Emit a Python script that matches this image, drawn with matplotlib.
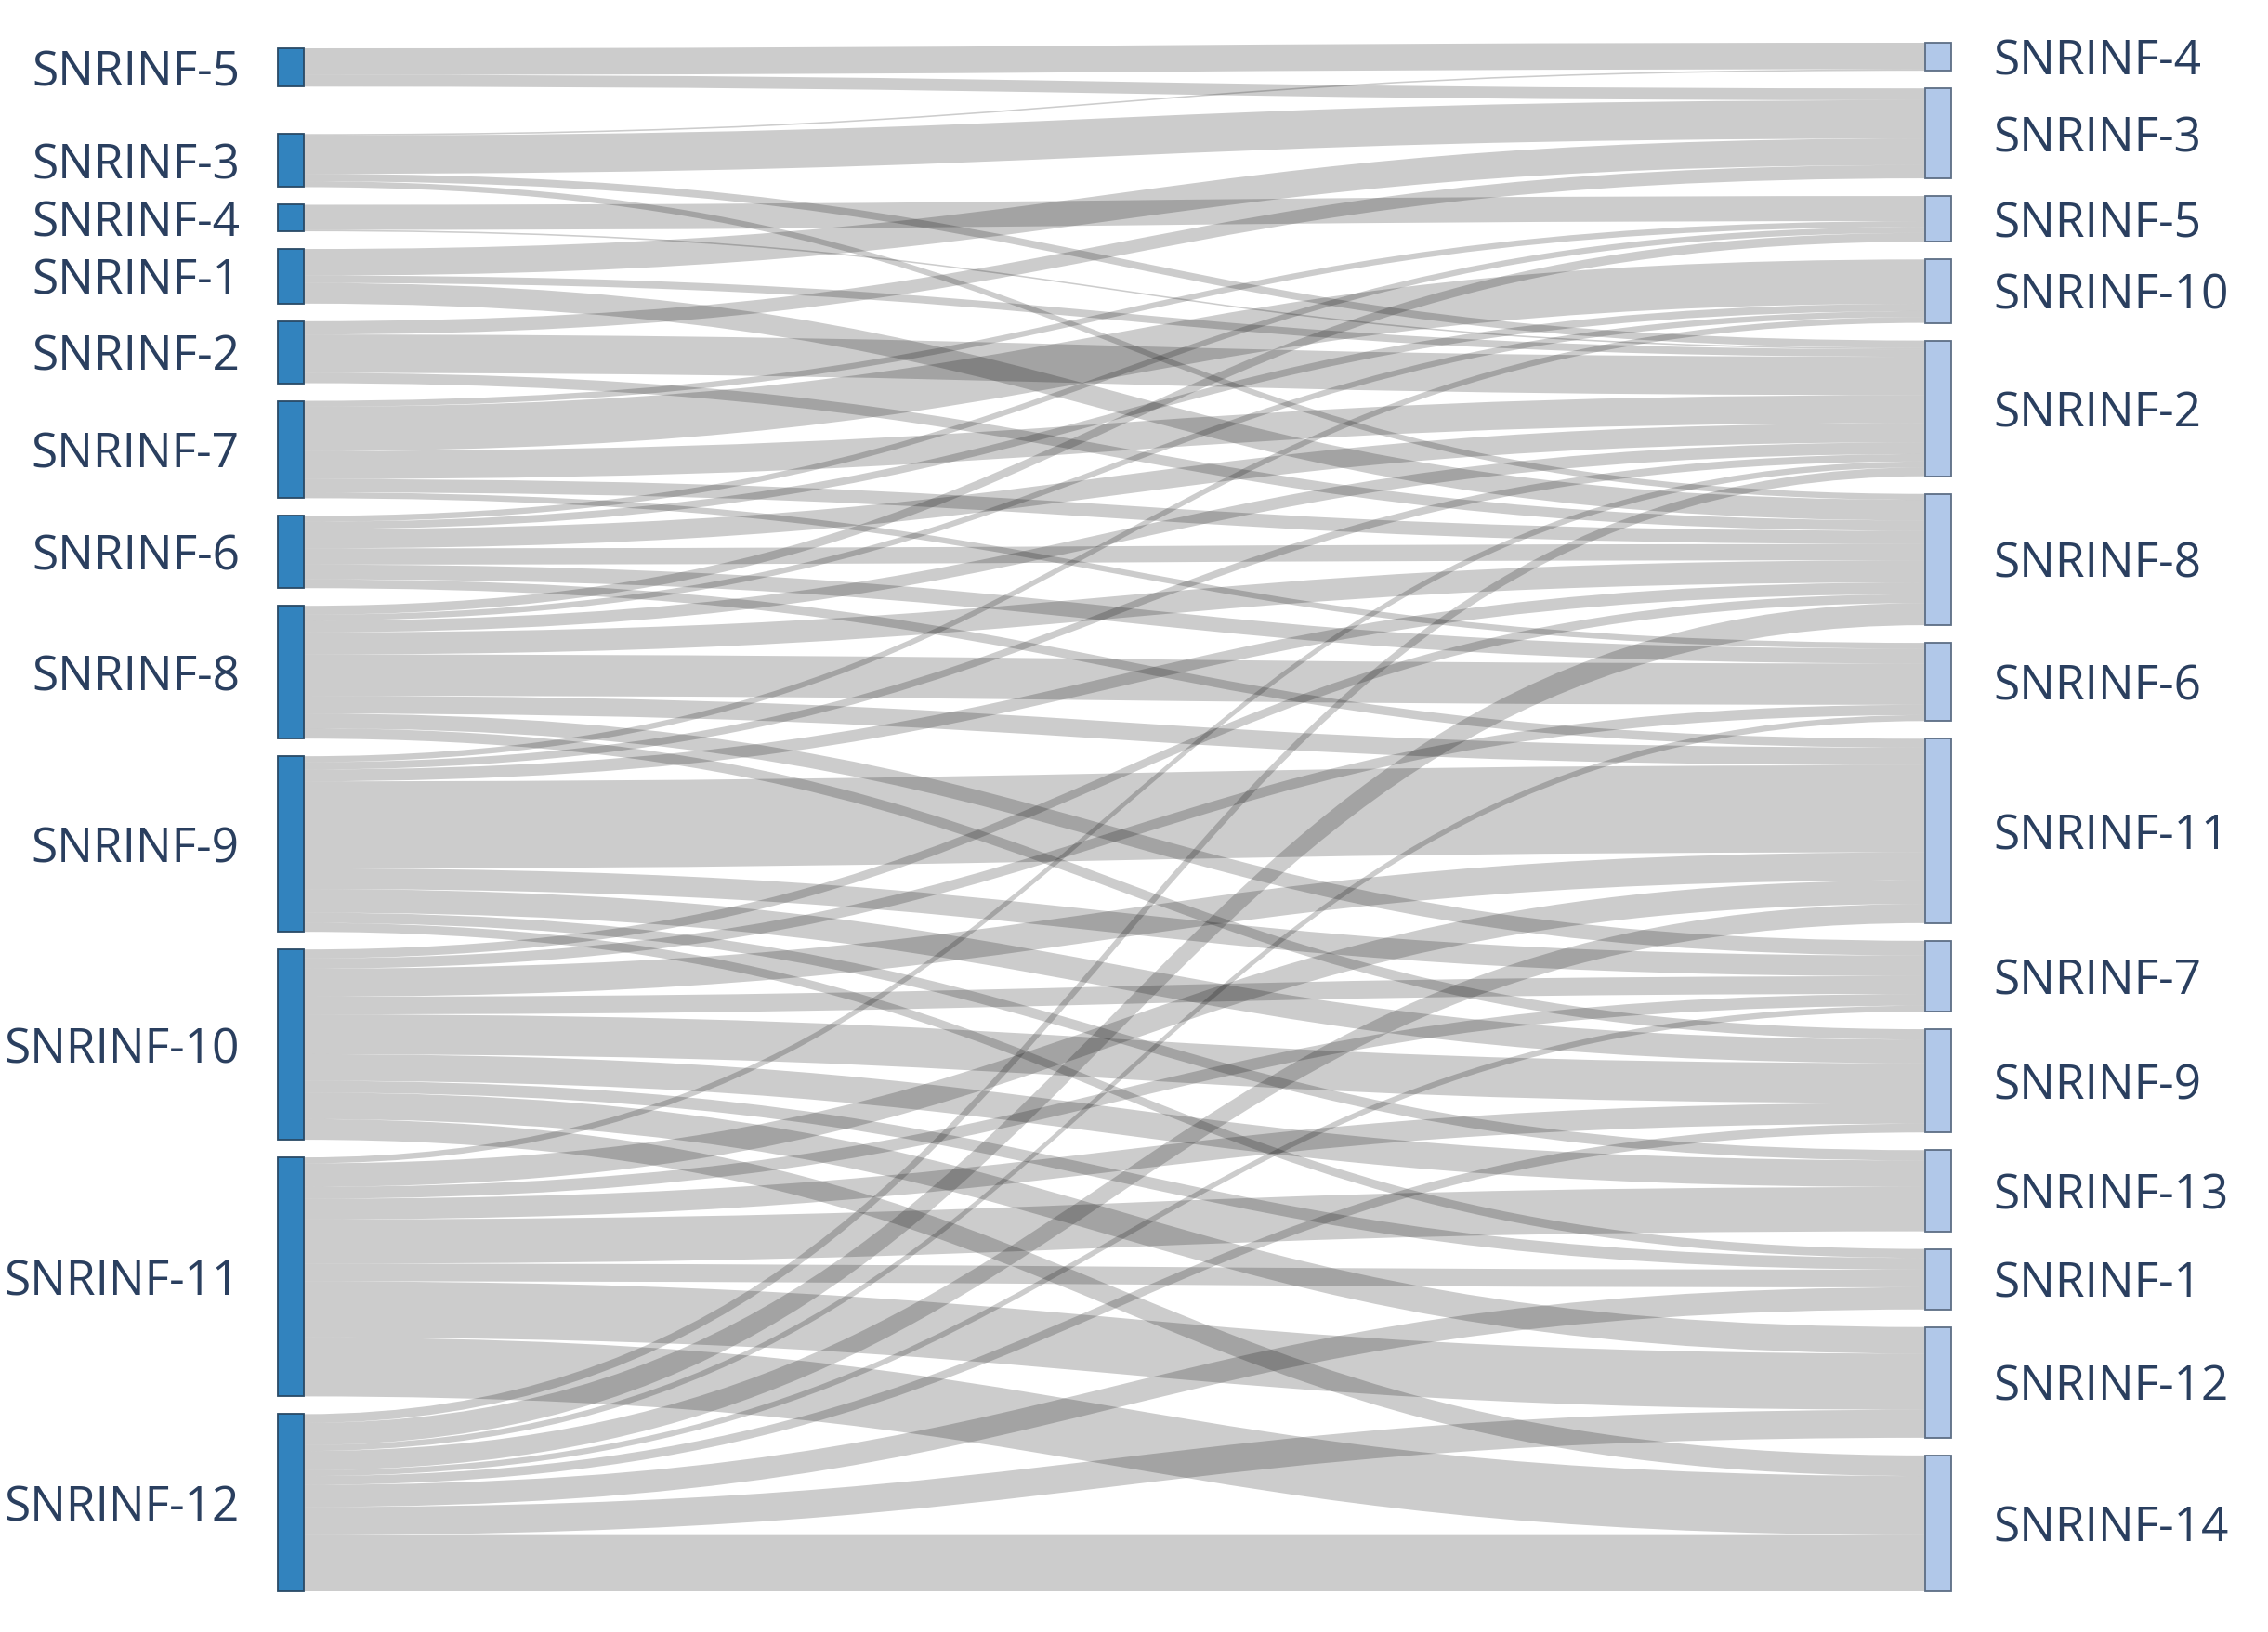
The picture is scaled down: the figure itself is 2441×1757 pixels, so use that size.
import numpy as np
import matplotlib.pyplot as plt
from matplotlib.path import Path
from matplotlib.patches import PathPatch, Rectangle

# --- data: nodes (top to bottom on each side) ---
left_labels = ["SNRINF-5", "SNRINF-3", "SNRINF-4", "SNRINF-1", "SNRINF-2", "SNRINF-7",
               "SNRINF-6", "SNRINF-8", "SNRINF-9", "SNRINF-10", "SNRINF-11", "SNRINF-12"]
right_labels = ["SNRINF-4", "SNRINF-3", "SNRINF-5", "SNRINF-10", "SNRINF-2", "SNRINF-8",
                "SNRINF-6", "SNRINF-11", "SNRINF-7", "SNRINF-9", "SNRINF-13", "SNRINF-1",
                "SNRINF-12", "SNRINF-14"]

# --- data: links (index into left_labels -> index into right_labels) ---
link_source = [0, 0,
               1, 1, 1, 1,
               2, 2,
               3, 3, 3,
               4, 4, 4,
               5, 5, 5, 5, 5,
               6, 6, 6, 6, 6, 6,
               7, 7, 7, 7, 7, 7, 7, 7,
               8, 8, 8, 8, 8, 8, 8, 8,
               9, 9, 9, 9, 9, 9, 9, 9, 9,
               10, 10, 10, 10, 10, 10, 10, 10,
               11, 11, 11, 11, 11, 11, 11, 11, 11]
link_target = [0, 1,
               0, 1, 4, 5,
               2, 4,
               1, 4, 5,
               1, 4, 5,
               2, 3, 4, 5, 6,
               2, 3, 4, 5, 6, 7,
               2, 3, 4, 5, 6, 7, 8, 9,
               3, 4, 5, 7, 8, 9, 10, 11,
               5, 6, 7, 8, 9, 10, 11, 12, 13,
               4, 7, 8, 9, 10, 11, 12, 13,
               4, 5, 6, 7, 8, 9, 11, 12, 13]
link_value = [18, 8,
              1, 26, 5, 4,
              17, 1,
              18, 5, 14,
              9, 26, 7,
              4, 30, 19, 9, 4,
              4, 5, 13, 11, 10, 6,
              6, 4, 8, 15, 28, 12, 10, 7,
              4, 5, 8, 59, 14, 16, 7, 6,
              6, 7, 19, 12, 27, 18, 8, 18, 14,
              4, 16, 8, 14, 30, 12, 38, 40,
              6, 15, 4, 13, 4, 6, 15, 19, 38]

# --- figure in pixel units ---
W, H = 2441, 1757
fig = plt.figure(figsize=(W / 100, H / 100), dpi=100)
ax = fig.add_axes([0, 0, 1, 1])
ax.set_xlim(0, W)
ax.set_ylim(H, 0)
ax.axis("off")

X_LEFT, X_RIGHT, NODE_W = 299, 2072, 28
Y_TOP, Y_BOT, PAD = 46, 1713, 19
LINK_COLOR = (0, 0, 0, 0.2)
TEXT_COLOR = "#2a3f5f"
TEXT_DY = 6  # labels sit a little below the node centre

src = np.array(link_source)
tgt = np.array(link_target)
val = np.array(link_value, dtype=float)
n_left, n_right = len(left_labels), len(right_labels)

left_val = np.bincount(src, weights=val, minlength=n_left)
right_val = np.bincount(tgt, weights=val, minlength=n_right)
ky = (Y_BOT - Y_TOP - (n_right - 1) * PAD) / val.sum()

# right column stacked from the top
right_h = right_val * ky
right_y0 = np.zeros(n_right)
y = Y_TOP
for i in range(n_right):
    right_y0[i] = y
    y += right_h[i] + PAD

# left column stacked from the bottom, first node sits near the top
left_h = left_val * ky
left_y0 = np.zeros(n_left)
y = Y_BOT
for i in range(n_left - 1, 0, -1):
    left_y0[i] = y - left_h[i]
    y = left_y0[i] - PAD
left_y0[0] = Y_TOP + 6

# link offsets at each end (sorted by the position of the other end)
n_links = len(val)
sy = np.zeros(n_links)
ty = np.zeros(n_links)
off = left_y0.copy()
for k in sorted(range(n_links), key=lambda k: (src[k], right_y0[tgt[k]])):
    sy[k] = off[src[k]]
    off[src[k]] += val[k] * ky
off = right_y0.copy()
for k in sorted(range(n_links), key=lambda k: (tgt[k], left_y0[src[k]])):
    ty[k] = off[tgt[k]]
    off[tgt[k]] += val[k] * ky

# --- links ---
x0 = X_LEFT + NODE_W
x1 = X_RIGHT
xm = (x0 + x1) / 2
codes = [Path.MOVETO, Path.CURVE4, Path.CURVE4, Path.CURVE4,
         Path.LINETO, Path.CURVE4, Path.CURVE4, Path.CURVE4, Path.CLOSEPOLY]
for k in range(n_links):
    w = val[k] * ky
    y0a, y0b = sy[k], sy[k] + w
    y1a, y1b = ty[k], ty[k] + w
    verts = [(x0, y0a), (xm, y0a), (xm, y1a), (x1, y1a),
             (x1, y1b), (xm, y1b), (xm, y0b), (x0, y0b), (x0, y0a)]
    ax.add_patch(PathPatch(Path(verts, codes), facecolor=LINK_COLOR,
                           edgecolor="none", lw=0))

# --- nodes and labels ---
for i, lab in enumerate(left_labels):
    ax.add_patch(Rectangle((X_LEFT, left_y0[i]), NODE_W, left_h[i],
                           facecolor="#3283be", edgecolor="#2a4a66", lw=1.3))
    ax.text(X_LEFT - 41, left_y0[i] + left_h[i] / 2 + TEXT_DY, lab, ha="right",
            va="center", fontsize=37, color=TEXT_COLOR, family="Open Sans")

for i, lab in enumerate(right_labels):
    ax.add_patch(Rectangle((X_RIGHT, right_y0[i]), NODE_W, right_h[i],
                           facecolor="#b1c8e9", edgecolor="#5d6e85", lw=1.3))
    ax.text(X_RIGHT + NODE_W + 45, right_y0[i] + right_h[i] / 2 + TEXT_DY, lab,
            ha="left", va="center", fontsize=37, color=TEXT_COLOR,
            family="Open Sans")

fig.savefig("out.png", dpi=100, facecolor="white")
